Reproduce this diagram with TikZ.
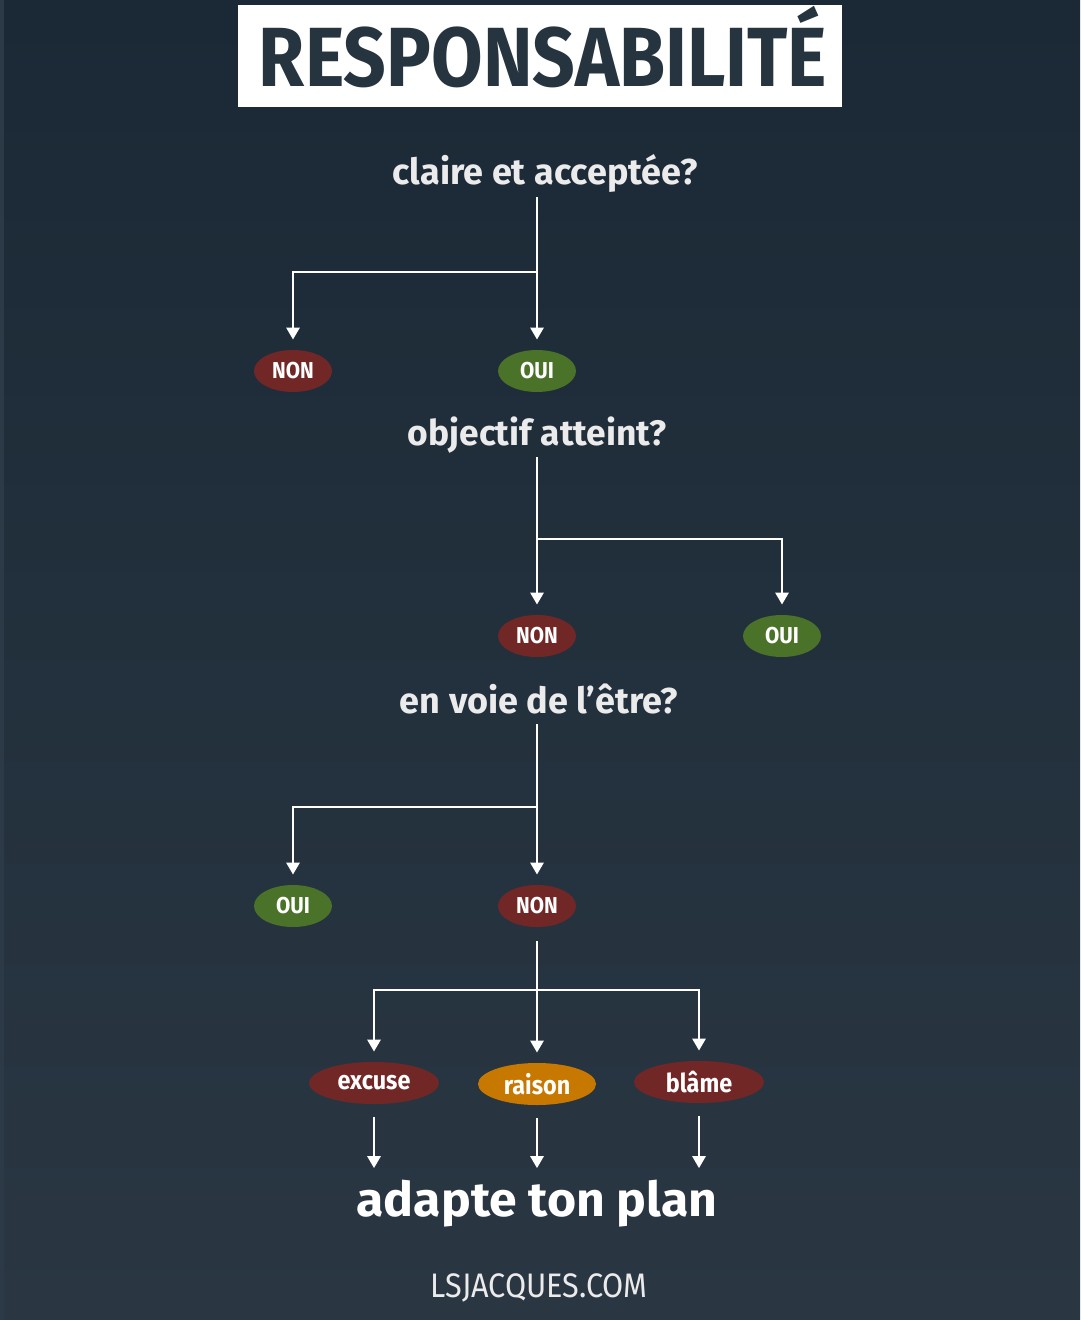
\documentclass[tikz,border=0pt]{standalone}
\usepackage{fontspec}
\setmainfont{Fira Sans}[FakeStretch=0.9]
\newfontfamily\titlefont{Fira Sans}[FakeStretch=0.89]
\newfontfamily\qfont{Fira Sans}[FakeStretch=1.0]
\newfontfamily\planfont{Fira Sans}[FakeStretch=1.04]
\newfontfamily\sitefont{Fira Sans}[FakeStretch=0.9]
\usetikzlibrary{shapes.geometric,arrows.meta}
\definecolor{bgtop}{HTML}{1B2936}
\definecolor{bgbot}{HTML}{2A3743}
\definecolor{stripc}{HTML}{2B3A46}
\definecolor{titlec}{HTML}{263440}
\definecolor{txt}{HTML}{EBEBEB}
\definecolor{nonred}{HTML}{722727}
\definecolor{ouigreen}{HTML}{4A7228}
\definecolor{orangec}{HTML}{C77800}
\tikzset{
  oval/.style={ellipse, inner sep=0pt, minimum width=39pt, minimum height=21pt, text=white,
    font=\bfseries\fontsize{11.5}{12}\selectfont},
  ovalwide/.style={oval, minimum width=65pt, font=\bfseries\fontsize{13}{14}\selectfont},
  nonc/.style={fill=nonred},
  ouic/.style={fill=ouigreen},
  question/.style={anchor=base, inner sep=0pt, text=txt, font=\qfont\bfseries\fontsize{18}{20}\selectfont},
  conn/.style={draw=white, line width=1.4pt, -{Triangle[width=6.5pt,length=6pt]}},
}
\begin{document}
\begin{tikzpicture}[x=0.5pt,y=-0.5pt]
\shade[top color=bgtop, bottom color=bgbot] (0,0) rectangle (1080,1320);
\fill[stripc] (0,0) rectangle (4,1320);
\useasboundingbox (0,0) rectangle (1080,1320);

% title
\fill[white] (238,5) rectangle (842,107);
\node[anchor=base, inner sep=0pt, text=titlec, font=\titlefont\bfseries\fontsize{42}{44}\selectfont] (title) at (543,87) {RESPONSABILITÉ};

% level 1
\node[question] (q1) at (545,185) {claire et acceptée?};
\node[oval, nonc] (non1) at (293,371) {NON};
\node[oval, ouic] (oui1) at (537,371) {OUI};
\coordinate (j1) at (537,272);
\draw[conn, shorten <=2pt, shorten >=5pt] (q1.south -| oui1.north) -- (oui1.north);
\draw[conn, shorten >=5pt] (j1) -| (non1.north);

% level 2
\node[question, font=\qfont\bfseries\fontsize{17.7}{20}\selectfont] (q2) at (537,445) {objectif atteint?};
\node[oval, nonc] (non2) at (537,636) {NON};
\node[oval, ouic] (oui2) at (782,636) {OUI};
\coordinate (j2) at (537,539);
\draw[conn, shorten <=2pt, shorten >=5pt] (q2.south -| non2.north) -- (non2.north);
\draw[conn, shorten >=5pt] (j2) -| (oui2.north);

% level 3
\node[question] (q3) at (539,713) {en voie de l’être?};
\node[oval, ouic] (oui3) at (293,906) {OUI};
\node[oval, nonc] (non3) at (537,906) {NON};
\coordinate (j3) at (537,807);
\draw[conn, shorten <=5pt, shorten >=5pt] (q3.south -| non3.north) -- (non3.north);
\draw[conn, shorten >=5pt] (j3) -| (oui3.north);

% level 4
\node[ovalwide, nonc] (excuse) at (374,1083) {excuse};
\node[ovalwide, fill=orangec, minimum width=59pt] (raison) at (537,1084) {raison};
\node[ovalwide, nonc] (blame) at (699,1082) {blâme};
\coordinate (j4) at (537,990);
\draw[conn, shorten <=7pt, shorten >=5pt] (non3.south) -- (raison.north);
\draw[conn, shorten >=5pt] (j4) -| (excuse.north);
\draw[conn, shorten >=5pt] (j4) -| (blame.north);

% result
\node[anchor=base, inner sep=0pt, text=white, font=\planfont\bfseries\fontsize{24}{26}\selectfont] (plan) at (537,1216) {adapte ton plan};
\draw[conn, shorten <=6.5pt, shorten >=5.5pt] (excuse.south) -- (excuse.south |- plan.north);
\draw[conn, shorten <=6.5pt, shorten >=5.5pt] (raison.south) -- (raison.south |- plan.north);
\draw[conn, shorten <=6.5pt, shorten >=5.5pt] (blame.south) -- (blame.south |- plan.north);

% footer
\node[anchor=base, inner sep=0pt, text=txt, font=\sitefont\fontsize{17}{19}\selectfont] (site) at (539,1297) {LSJACQUES.COM};
\end{tikzpicture}
\end{document}
